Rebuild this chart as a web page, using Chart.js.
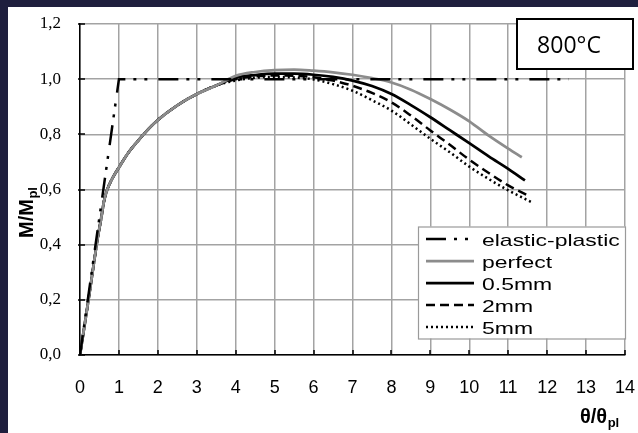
<!DOCTYPE html>
<html>
<head>
<meta charset="utf-8">
<script src="https://cdn.jsdelivr.net/npm/chart.js@4.4.1/dist/chart.umd.min.js"></script>
<style>
  html, body { margin: 0; padding: 0; background: #1f1f3e; width: 638px; height: 433px; overflow: hidden; }
  #wrap { position: absolute; left: 8px; top: 7px; width: 630px; height: 426px; background: #ffffff; }
  canvas { display: block; }
</style>
</head>
<body>
<div id="wrap"><canvas id="c" width="630" height="426"></canvas></div>
<script>
// ---- data ----
const xTicks = [0,1,2,3,4,5,6,7,8,9,10,11,12,13,14];
const yTicks = [0,0.2,0.4,0.6,0.8,1.0,1.2];

const seriesNames = ['elastic-plastic','perfect','0.5mm','2mm','5mm'];

const epTheta = [0, 1, 12.55];
const epM     = [0, 1, 1];

// common initial (elastic + hardening) branch of the FE curves
const riseTheta = [0, 0.25, 0.45, 0.55, 0.62, 0.7, 0.85, 1, 1.25, 1.5, 1.75, 2, 2.5, 3, 3.5];
const riseM     = [0, 0.23, 0.42, 0.5, 0.56, 0.6, 0.645, 0.68, 0.735, 0.778, 0.818, 0.852, 0.905, 0.946, 0.977];

const perfectTheta = [4, 4.5, 5, 5.5, 6, 6.5, 7, 7.5, 8, 8.5, 9, 9.5, 10, 10.5, 11, 11.35];
const perfectM     = [1.012, 1.026, 1.033, 1.035, 1.031, 1.025, 1.016, 1.004, 0.988, 0.962, 0.928, 0.89, 0.847, 0.795, 0.748, 0.717];

const mm05Theta = [4, 4.5, 5, 5.5, 6, 6.5, 7, 7.5, 8, 8.5, 9, 9.5, 10, 10.5, 11, 11.43];
const mm05M     = [1.005, 1.015, 1.02, 1.02, 1.016, 1.008, 0.995, 0.975, 0.946, 0.906, 0.862, 0.815, 0.768, 0.72, 0.675, 0.633];

const mm2Theta = [4, 4.5, 5, 5.5, 6, 6.5, 7, 7.5, 8, 8.5, 9, 9.5, 10, 10.5, 11, 11.5];
const mm2M     = [1.0, 1.01, 1.013, 1.012, 1.007, 0.995, 0.976, 0.95, 0.916, 0.868, 0.814, 0.762, 0.708, 0.66, 0.615, 0.579];

const mm5Theta = [4, 4.5, 5, 5.5, 6, 6.5, 7, 7.5, 8, 8.5, 9, 9.5, 10, 10.5, 11, 11.6];
const mm5M     = [0.995, 1.005, 1.008, 1.006, 0.999, 0.982, 0.958, 0.924, 0.886, 0.836, 0.784, 0.735, 0.683, 0.638, 0.597, 0.554];

// ---- helpers ----
function pts(xs, ys) { return xs.map((x, i) => ({ x: x, y: ys[i] })); }
function withRise(xs, ys) { return pts(riseTheta.concat(xs), riseM.concat(ys)); }

const styles = [
  { color: '#000000', width: 2.5, dash: [20, 8, 3, 8, 3, 11] },
  { color: '#8c8c8c', width: 2.75, dash: [] },
  { color: '#000000', width: 2.75, dash: [] },
  { color: '#000000', width: 2.5, dash: [9, 5] },
  { color: '#000000', width: 2.5, dash: [2, 3] }
];

const dataSets = [
  pts(epTheta, epM),
  withRise(perfectTheta, perfectM),
  withRise(mm05Theta, mm05M),
  withRise(mm2Theta, mm2M),
  withRise(mm5Theta, mm5M)
];

const datasets = dataSets.map((d, i) => ({
  label: seriesNames[i],
  data: d,
  borderColor: styles[i].color,
  borderWidth: styles[i].width,
  borderDash: styles[i].dash,
  borderCapStyle: 'butt',
  pointRadius: 0,
  fill: false,
  tension: 0,
  cubicInterpolationMode: i === 0 ? 'default' : 'monotone'
}));

// ---- decoration plugin (ticks, legend, titles, label box) ----
const deco = {
  id: 'deco',
  afterDraw(chart) {
    const ctx = chart.ctx;
    const a = chart.chartArea;
    const xs = chart.scales.x, ys = chart.scales.y;
    ctx.save();
    // inner tick marks
    ctx.strokeStyle = '#000';
    ctx.lineWidth = 1.5;
    ctx.setLineDash([]);
    xTicks.forEach(t => {
      const px = Math.round(xs.getPixelForValue(t));
      ctx.beginPath(); ctx.moveTo(px, a.bottom); ctx.lineTo(px, a.bottom - 5); ctx.stroke();
    });
    yTicks.forEach(t => {
      const py = Math.round(ys.getPixelForValue(t));
      ctx.beginPath(); ctx.moveTo(a.left - 2, py); ctx.lineTo(a.left + 5, py); ctx.stroke();
    });

    // legend box
    const lx = 410, ly = 219.5, lw = 207, lh = 112;
    ctx.fillStyle = '#ffffff';
    ctx.fillRect(lx, ly, lw, lh);
    ctx.strokeStyle = '#9a9a9a';
    ctx.lineWidth = 1.2;
    ctx.strokeRect(lx + 0.5, ly + 0.5, lw, lh);
    seriesNames.forEach((name, i) => {
      const rowY = 232 + i * 22;
      const st = styles[i];
      ctx.strokeStyle = st.color;
      ctx.lineWidth = st.width;
      ctx.setLineDash(st.dash);
      ctx.beginPath(); ctx.moveTo(418, rowY); ctx.lineTo(466, rowY); ctx.stroke();
      ctx.setLineDash([]);
      ctx.save();
      ctx.translate(474, rowY + 2);
      ctx.scale(1.35, 1);
      ctx.fillStyle = '#000';
      ctx.font = '17px "Liberation Sans", Arial, sans-serif';
      ctx.textBaseline = 'middle';
      ctx.textAlign = 'left';
      ctx.fillText(name, 0, 0);
      ctx.restore();
    });

    // temperature box
    ctx.fillStyle = '#ffffff';
    ctx.fillRect(509, 12, 116, 50);
    ctx.strokeStyle = '#000';
    ctx.lineWidth = 2;
    ctx.strokeRect(509, 12, 116, 50);
    ctx.fillStyle = '#000';
    ctx.font = '23px "Open Sans", "Liberation Sans", Arial, sans-serif';
    ctx.textAlign = 'center';
    ctx.textBaseline = 'middle';
    ctx.fillText('800°C', 561, 39);

    // x title  θ/θpl
    ctx.textAlign = 'left';
    ctx.textBaseline = 'alphabetic';
    ctx.font = 'bold 20px "Liberation Sans", Arial, sans-serif';
    const xt = 'θ/θ';
    const xtx = 572, xty = 416;
    ctx.fillText(xt, xtx, xty);
    const w1 = ctx.measureText(xt).width;
    ctx.font = 'bold 13px "Liberation Sans", Arial, sans-serif';
    ctx.fillText('pl', xtx + w1 + 0.5, xty + 4);

    // y title  M/Mpl (rotated)
    ctx.save();
    ctx.translate(25, 231);
    ctx.rotate(-Math.PI / 2);
    ctx.font = 'bold 20px "Liberation Sans", Arial, sans-serif';
    ctx.fillText('M/M', 0, 0);
    const w2 = ctx.measureText('M/M').width;
    ctx.font = 'bold 13px "Liberation Sans", Arial, sans-serif';
    ctx.fillText('pl', w2 + 0.5, 4);
    ctx.restore();

    ctx.restore();
  }
};

new Chart(document.getElementById('c'), {
  type: 'line',
  data: { datasets: datasets },
  options: {
    responsive: false,
    animation: false,
    events: [],
    layout: { padding: { top: 17, right: 13, left: 0, bottom: 0 } },
    plugins: { legend: { display: false }, tooltip: { enabled: false } },
    scales: {
      x: {
        type: 'linear',
        min: 0, max: 14,
        afterFit: s => { s.height = 78; s.paddingLeft = 0; s.paddingRight = 0; },
        afterBuildTicks: s => { s.ticks = xTicks.map(v => ({ value: v })); },
        ticks: {
          color: '#000',
          padding: 22,
          font: { family: '"Liberation Sans", Arial, sans-serif', size: 18 },
          callback: v => String(v)
        },
        grid: { color: '#a3a3a3', lineWidth: 1.5, drawTicks: false },
        border: { display: true, color: '#000', width: 1.5 }
      },
      y: {
        type: 'linear',
        min: 0, max: 1.2,
        afterFit: s => { s.width = 72; s.paddingTop = 0; s.paddingBottom = 0; },
        afterBuildTicks: s => { s.ticks = yTicks.map(v => ({ value: v })); },
        ticks: {
          color: '#000',
          padding: 19,
          font: { family: '"Liberation Serif", "Times New Roman", serif', size: 17 },
          callback: v => v.toFixed(1).replace('.', ',')
        },
        grid: { color: '#a3a3a3', lineWidth: 1.5, drawTicks: false },
        border: { display: true, color: '#000', width: 1.5 }
      }
    }
  },
  plugins: [deco]
});
</script>
</body>
</html>
